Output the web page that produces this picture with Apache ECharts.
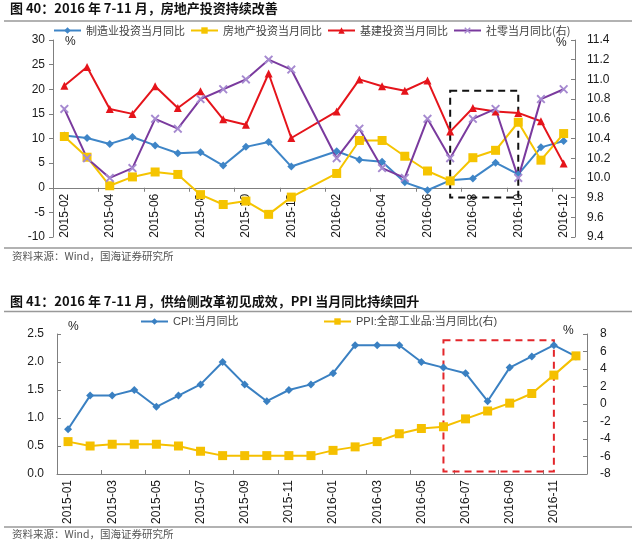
<!DOCTYPE html>
<html><head><meta charset="utf-8">
<script src="https://cdn.jsdelivr.net/npm/echarts@6/dist/echarts.min.js"></script>
<style>html,body{margin:0;padding:0;background:#fff}#c{width:640px;height:544px}</style>
</head><body><div id="c"></div><script>
// ---- Chart 1 (图 40) ----
const months1 = ['2015-02','2015-03','2015-04','2015-05','2015-06','2015-07','2015-08','2015-09','2015-10','2015-11','2015-12',
  '2016-01','2016-02','2016-03','2016-04','2016-05','2016-06','2016-07','2016-08','2016-09','2016-10','2016-11','2016-12'];
const manufacturing = [10.6,10.1,8.9,10.3,8.6,7.0,7.2,4.5,8.3,9.3,4.3,null,7.4,5.7,5.3,1.1,-0.5,1.5,1.9,5.1,2.7,8.2,9.5];
const realEstate    = [10.4,6.2,0.4,2.2,3.2,2.7,-1.4,-3.4,-2.7,-5.4,-1.9,null,2.9,9.6,9.6,6.4,3.4,1.4,6.1,7.6,13.3,5.6,11.0];
const infrastructure= [20.7,24.5,16.0,15.0,20.6,16.2,19.6,13.9,12.8,23.2,10.1,null,15.5,22.0,20.6,19.7,21.8,11.4,16.2,15.5,15.2,13.5,4.9];
const retail        = [10.7,10.2,10.0,10.1,10.6,10.5,10.8,10.9,11.0,11.2,11.1,null,10.2,10.5,10.1,10.0,10.6,10.2,10.6,10.7,10.0,10.8,10.9];
const names1 = ['制造业投资当月同比','房地产投资当月同比','基建投资当月同比','社零当月同比(右)'];
const leftRange1 = [-10, 30, 5];
const rightRange1 = [9.4, 11.4, 0.2];
const box1 = [['2016-07', 19.7], ['2016-10', -2.0]];

// ---- Chart 2 (图 41) ----
const months2 = ['2015-01','2015-02','2015-03','2015-04','2015-05','2015-06','2015-07','2015-08','2015-09','2015-10','2015-11','2015-12',
  '2016-01','2016-02','2016-03','2016-04','2016-05','2016-06','2016-07','2016-08','2016-09','2016-10','2016-11','2016-12'];
const cpi = [0.8,1.4,1.4,1.5,1.2,1.4,1.6,2.0,1.6,1.3,1.5,1.6,1.8,2.3,2.3,2.3,2.0,1.9,1.8,1.3,1.9,2.1,2.3,2.1];
const ppi = [-4.3,-4.8,-4.6,-4.6,-4.6,-4.8,-5.4,-5.9,-5.9,-5.9,-5.9,-5.9,-5.3,-4.9,-4.3,-3.4,-2.8,-2.6,-1.7,-0.8,0.1,1.2,3.3,5.5];
const names2 = ['CPI:当月同比','PPI:全部工业品:当月同比(右)'];
const leftRange2 = [0, 2.5, 0.5];
const rightRange2 = [-8, 8, 2];
const box2 = [['2016-06', 7.3], ['2016-11', -7.7]];

const FONT = '"Liberation Sans", Arial, "Noto Sans CJK SC", sans-serif';
const CJK = '"Noto Sans CJK SC", sans-serif';
const axisCol = '#7f7f7f';
const xPath = 'path://M0,1.5L1.5,0L5,3.5L8.5,0L10,1.5L6.5,5L10,8.5L8.5,10L5,6.5L1.5,10L0,8.5L3.5,5Z';

const grid1 = {left: 53, right: 65, top: 40, height: 197};
// place the category axis of chart 1 on the value-axis zero line
const zeroShift1 = grid1.height * (0 - leftRange1[0]) / (leftRange1[1] - leftRange1[0]);

function valAxis(gridIndex, r, pos, tickInside, margin, dec) {
  return {
    type: 'value', gridIndex, position: pos, min: r[0], max: r[1], interval: r[2],
    splitLine: {show: false},
    axisLine: {show: true, lineStyle: {color: axisCol, width: 1}},
    axisTick: {show: true, inside: tickInside, length: 4, lineStyle: {color: axisCol}},
    axisLabel: {color: '#1a1a1a', fontSize: 12, fontFamily: FONT, margin,
      formatter: v => dec ? (Math.round(v*10)/10).toFixed(1) : String(Math.round(v))}
  };
}
function catAxis(gridIndex, data, tickInside, offset) {
  return {
    type: 'category', gridIndex, data, boundaryGap: true, offset: offset,
    axisLine: {show: true, onZero: false, lineStyle: {color: axisCol, width: 1}},
    axisTick: {show: true, interval: 1, inside: tickInside, length: 4, lineStyle: {color: axisCol}},
    axisLabel: {interval: 1, rotate: 90, color: '#1a1a1a', fontSize: 12, fontFamily: FONT, margin: 6}
  };
}

const chart = echarts.init(document.getElementById('c'), null, {renderer: 'canvas'});
const option = {
  animation: false,
  backgroundColor: '#fff',
  grid: [
    Object.assign({outerBoundsMode: 'none'}, grid1),
    {left: 57, right: 53, top: 334, height: 140, outerBoundsMode: 'none'}
  ],
  legend: [
    {data: names1, left: 53, top: 25, padding: 0, itemWidth: 27, itemHeight: 8, itemGap: 5,
      textStyle: {fontSize: 11, color: '#444', fontFamily: CJK}},
    {data: [names2[0]], left: 140, top: 316, padding: 0, itemWidth: 27, itemHeight: 8,
      textStyle: {fontSize: 11, color: '#444', fontFamily: FONT}},
    {data: [names2[1]], left: 323, top: 316, padding: 0, itemWidth: 27, itemHeight: 8,
      textStyle: {fontSize: 11, color: '#444', fontFamily: FONT}}
  ],
  xAxis: [catAxis(0, months1, false, -zeroShift1), catAxis(1, months2, true, 0)],
  yAxis: [
    valAxis(0, leftRange1, 'left', false, 8, false),
    valAxis(0, rightRange1, 'right', true, 12, true),
    valAxis(1, leftRange2, 'left', true, 13, true),
    valAxis(1, rightRange2, 'right', true, 13, false)
  ],
  series: [
    {name: names1[0], type: 'line', xAxisIndex: 0, yAxisIndex: 0, data: manufacturing, connectNulls: true,
      symbol: 'diamond', symbolSize: 8, showAllSymbol: true,
      lineStyle: {color: '#3e85c7', width: 2}, itemStyle: {color: '#3e85c7'},
      markArea: {silent: true, itemStyle: {color: 'rgba(0,0,0,0)', borderColor: '#111', borderWidth: 2, borderType: [7,5]},
        data: [[{coord: box1[0]}, {coord: box1[1]}]]}},
    {name: names1[1], type: 'line', xAxisIndex: 0, yAxisIndex: 0, data: realEstate, connectNulls: true,
      symbol: 'rect', symbolSize: 9, showAllSymbol: true,
      lineStyle: {color: '#f5c400', width: 2}, itemStyle: {color: '#f5c400'}},
    {name: names1[2], type: 'line', xAxisIndex: 0, yAxisIndex: 0, data: infrastructure, connectNulls: true,
      symbol: 'triangle', symbolSize: 8, showAllSymbol: true,
      lineStyle: {color: '#e5141b', width: 2}, itemStyle: {color: '#e5141b'}},
    {name: names1[3], type: 'line', xAxisIndex: 0, yAxisIndex: 1, data: retail, connectNulls: true,
      symbol: xPath, symbolSize: 9, showAllSymbol: true,
      lineStyle: {color: '#7a3a9e', width: 2}, itemStyle: {color: '#a68ad0'}},
    {name: names2[0], type: 'line', xAxisIndex: 1, yAxisIndex: 2, data: cpi,
      symbol: 'diamond', symbolSize: 8, showAllSymbol: true,
      lineStyle: {color: '#3a80c2', width: 2}, itemStyle: {color: '#3a80c2'}},
    {name: names2[1], type: 'line', xAxisIndex: 1, yAxisIndex: 3, data: ppi,
      symbol: 'rect', symbolSize: 9, showAllSymbol: true,
      lineStyle: {color: '#f5c000', width: 2}, itemStyle: {color: '#f5c000'},
      markArea: {silent: true, itemStyle: {color: 'rgba(0,0,0,0)', borderColor: '#e3262b', borderWidth: 2, borderType: [7,5]},
        data: [[{coord: box2[0]}, {coord: box2[1]}]]}}
  ],
  graphic: [
    {type: 'text', left: 10, top: 2, style: {text: '图 40：2016 年 7-11 月，房地产投资持续改善', font: 'bold 13px "Noto Sans CJK SC"', fill: '#111'}},
    {type: 'line', shape: {x1: 4, y1: 21, x2: 632, y2: 21}, style: {stroke: '#999', lineWidth: 1.5}},
    {type: 'text', left: 65, top: 36, style: {text: '%', font: '12px "Liberation Sans"', fill: '#222'}},
    {type: 'text', left: 556, top: 37, style: {text: '%', font: '12px "Liberation Sans"', fill: '#222'}},
    {type: 'line', shape: {x1: 4, y1: 248, x2: 632, y2: 248}, style: {stroke: '#999', lineWidth: 1.5}},
    {type: 'text', left: 12, top: 251, style: {text: '资料来源：Wind，国海证券研究所', font: '10.5px "Noto Sans CJK SC"', fill: '#555'}},
    {type: 'text', left: 10, top: 295, style: {text: '图 41：2016 年 7-11 月，供给侧改革初见成效，PPI 当月同比持续回升', font: 'bold 13px "Noto Sans CJK SC"', fill: '#111'}},
    {type: 'line', shape: {x1: 4, y1: 311.5, x2: 632, y2: 311.5}, style: {stroke: '#999', lineWidth: 1.5}},
    {type: 'text', left: 68, top: 321, style: {text: '%', font: '12px "Liberation Sans"', fill: '#222'}},
    {type: 'text', left: 563, top: 325, style: {text: '%', font: '12px "Liberation Sans"', fill: '#222'}},
    {type: 'line', shape: {x1: 4, y1: 527, x2: 632, y2: 527}, style: {stroke: '#999', lineWidth: 1.5}},
    {type: 'text', left: 12, top: 529, style: {text: '资料来源：Wind，国海证券研究所', font: '10.5px "Noto Sans CJK SC"', fill: '#555'}}
  ]
};
chart.setOption(option);
</script></body></html>
